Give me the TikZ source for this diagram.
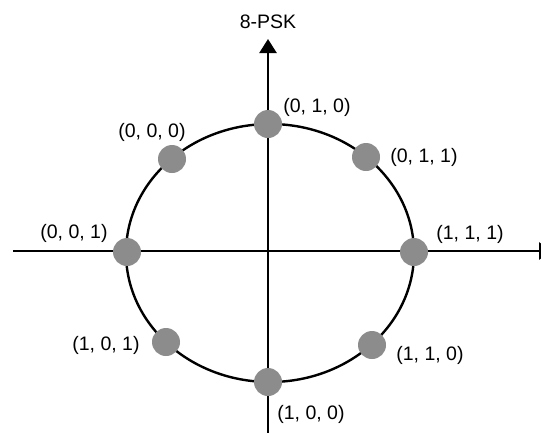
\documentclass[tikz,border=0pt]{standalone}
\usepackage{fontspec}
\setmainfont{Liberation Sans}
\usetikzlibrary{arrows.meta}
\definecolor{dotgray}{RGB}{140,140,140}
\tikzset{
  axisline/.style={line width=2.4pt, -{Triangle[width=17pt,length=14pt]}},
  ptdot/.style={circle, fill=dotgray, inner sep=0pt, minimum size=28pt},
  lbl/.style={font=\fontsize{19.5}{22}\selectfont, inner sep=0pt},
}
\begin{document}
\begin{tikzpicture}[x=1pt,y=-1pt]
\useasboundingbox (0,0) rectangle (541,432);
\clip (0,0) rectangle (541,432);
\coordinate (xs) at (13,251);
\coordinate (xe) at (553,251);
\coordinate (ys) at (268,440);
\coordinate (ye) at (268,39);
\draw[axisline] (xs) -- (xe);
\draw[axisline] (ys) -- (ye);
\draw[line width=2.4pt] (270,253) ellipse [x radius=144pt, y radius=129pt];
\node[ptdot] (p010) at (268,124) {};
\node[ptdot] (p011) at (366,157) {};
\node[ptdot] (p111) at (414,252) {};
\node[ptdot] (p110) at (372,345) {};
\node[ptdot] (p100) at (268,382) {};
\node[ptdot] (p101) at (166,342) {};
\node[ptdot] (p001) at (127,252) {};
\node[ptdot] (p000) at (172,159) {};
\node[lbl] (l8psk) at (268,22) {8-PSK};
\node[lbl] (l010) at (317,107) {(0, 1, 0)};
\node[lbl] (l000) at (152,132) {(0, 0, 0)};
\node[lbl] (l011) at (424,157) {(0, 1, 1)};
\node[lbl] (l001) at (74,233) {(0, 0, 1)};
\node[lbl] (l111) at (470,234) {(1, 1, 1)};
\node[lbl] (l101) at (106,345) {(1, 0, 1)};
\node[lbl] (l110) at (430,355) {(1, 1, 0)};
\node[lbl] (l100) at (311,414) {(1, 0, 0)};
\end{tikzpicture}
\end{document}
